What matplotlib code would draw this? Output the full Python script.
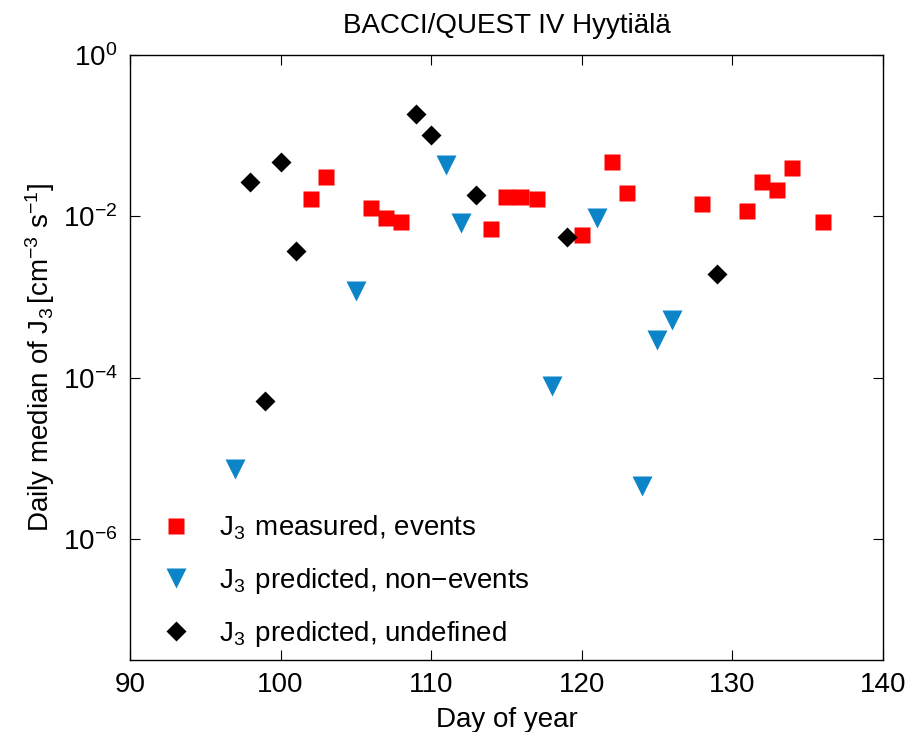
import numpy as np
import matplotlib
matplotlib.use('Agg')
from matplotlib import pyplot as plt
from matplotlib.ticker import FixedLocator, NullLocator

plt.rcParams['font.family'] = ['Liberation Sans', 'DejaVu Sans']
plt.rcParams['mathtext.fontset'] = 'custom'
plt.rcParams['mathtext.rm'] = 'Liberation Sans'
plt.rcParams['mathtext.it'] = 'Liberation Sans'

# measured, events
day_meas = [102, 103, 106, 107, 108, 114, 115, 116, 117, 120, 122, 123, 128, 131, 132, 133, 134, 136]
j3_meas = [0.0166, 0.031, 0.0128, 0.0096, 0.0086, 0.0070, 0.0175, 0.0175, 0.0166, 0.0059,
           0.047, 0.0196, 0.0143, 0.0117, 0.027, 0.0214, 0.040, 0.0086]

# predicted, non-events
day_non = [97, 105, 111, 112, 118, 121, 124, 125, 126]
j3_non = [7.3e-6, 1.17e-3, 0.0435, 0.0083, 7.8e-5, 0.0096, 4.5e-6, 2.96e-4, 5.25e-4]

# predicted, undefined
day_und = [98, 99, 100, 101, 109, 110, 113, 119, 129]
j3_und = [0.027, 5.2e-5, 0.047, 0.0037, 0.186, 0.102, 0.0185, 0.0056, 0.0019]

fs = 20

fig = plt.figure(figsize=(9.12, 7.32), dpi=100)
ax = fig.add_axes([0.1425, 0.0984, 0.8255, 0.8265])

ax.plot(day_meas, j3_meas, 's', color='#ff0000', ms=11.5, mec='none',
        label='J$_3\\;\\,$measured, events')
ax.plot(day_non, j3_non, 'v', color='#0c84c8', ms=14, mec='none',
        label='J$_3\\;\\,$predicted, non\u2212events')
ax.plot(day_und, j3_und, 'D', color='black', ms=10, mec='none',
        label='J$_3\\;\\,$predicted, undefined')

ax.set_yscale('log')
ax.set_xlim(90, 140)
ax.set_ylim(10**-7.5, 1)
ax.yaxis.set_major_locator(FixedLocator([1e-6, 1e-4, 1e-2, 1e0]))
ax.yaxis.set_minor_locator(NullLocator())
ax.set_xticks([90, 100, 110, 120, 130, 140])
ax.tick_params(direction='in', top=True, right=True, labelsize=fs, length=7, width=0.8, pad=9)
for s in ax.spines.values():
    s.set_linewidth(1.0)

ax.set_xlabel('Day of year', fontsize=fs, labelpad=6)
ax.set_ylabel('Daily median of J$_3\\,$[cm$^{-3}$ s$^{-1}$]', fontsize=fs, labelpad=4)
ax.set_title('BACCI/QUEST IV Hyyti\u00e4l\u00e4', fontsize=fs, pad=16)

leg = ax.legend(loc='lower left', bbox_to_anchor=(0.028, 0.0), frameon=False, fontsize=fs,
                handletextpad=1.05, borderaxespad=0.0, labelspacing=0.84, handlelength=1.0)

fig.savefig('out.png', dpi=100)
